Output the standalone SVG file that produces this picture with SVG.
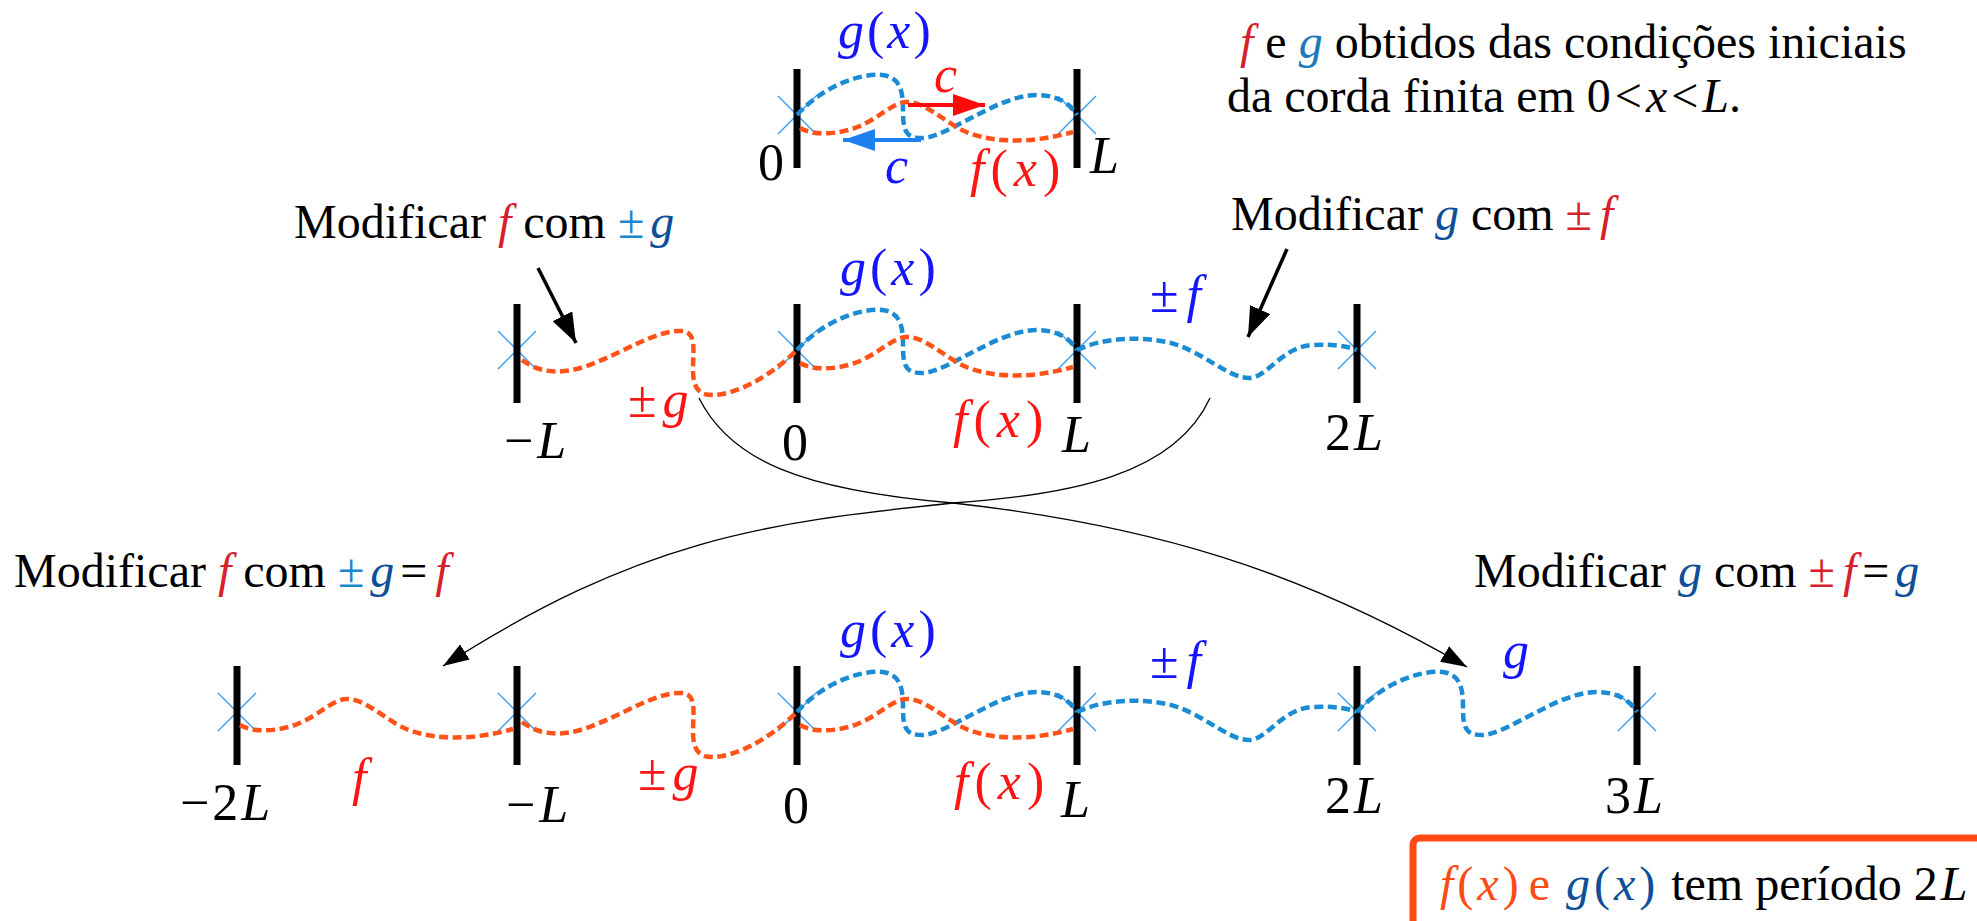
<svg xmlns="http://www.w3.org/2000/svg" width="1977" height="921" viewBox="0 0 1977 921">
<style>
text{font-family:"Liberation Serif","Times New Roman",serif;}
.t{font-size:48px;fill:#000}
.m{font-size:52px}
.i{font-style:italic}
.bar{fill:#000}
.x{stroke:#3d9df2;stroke-width:1.5}
.fd{fill:none;stroke:#ff5319;stroke-width:4.5;stroke-dasharray:9 4.5}
.gd{fill:none;stroke:#1b8bd3;stroke-width:4.5;stroke-dasharray:9 4.5}
.conn{fill:none;stroke:#000;stroke-width:1.3}
.thick{fill:none;stroke:#000;stroke-width:3.5}
.lb{fill:#1414ff}
.lr{fill:#ff1414}
.cr{fill:#d7202b}
.cb{fill:#1a86cf}
.cd{fill:#0d4f98}
</style>
<defs>
<path id="f0" d="M3,13 C15,20 35,20 55,14 C80,6 95,-13 110,-13 C128,-13 145,5 165,15 C190,27 230,30 276,17"/>
<path id="g0" d="M0,0 C25,-28 62,-42 85,-40 C104,-38 106,-22 106,-5 C106,15 108,23 125,23 C150,23 200,-20 240,-20 C262,-20 274,-10 280,0"/>
<path id="gm" d="M-275,10 C-255,25 -230,25 -200,12 C-170,0 -140,-20 -115,-19 C-100,-18 -104,0 -104,20 C-104,38 -98,45 -85,45 C-60,45 -25,25 0,0"/>
<path id="fp" d="M0,0 C25,-12 60,-14 90,-8 C125,0 150,28 172,28 C190,28 205,-3 235,-5 C255,-6 270,-4 280,0"/>
<g id="post">
<line class="x" x1="-19" y1="-19" x2="19" y2="19"/>
<line class="x" x1="19" y1="-19" x2="-19" y2="19"/>
<rect class="bar" x="-3.5" y="-46" width="7" height="99"/>
</g>
<marker id="ahBig" markerUnits="userSpaceOnUse" markerWidth="32" markerHeight="22" refX="30" refY="11" orient="auto">
<path d="M0,0 L30,11 L0,22 z" fill="#000"/>
</marker>
<marker id="ahThin" markerUnits="userSpaceOnUse" markerWidth="28" markerHeight="18" refX="26" refY="9" orient="auto">
<path d="M0,0 L26,9 L0,18 z" fill="#000"/>
</marker>
<marker id="ahRed" markerUnits="userSpaceOnUse" markerWidth="34" markerHeight="22" refX="32" refY="11" orient="auto">
<path d="M0,0 L32,11 L0,22 z" fill="#ff0a0a"/>
</marker>
<marker id="ahBlue" markerUnits="userSpaceOnUse" markerWidth="34" markerHeight="22" refX="32" refY="11" orient="auto">
<path d="M0,0 L32,11 L0,22 z" fill="#1e7ff0"/>
</marker>
</defs>

<!-- Top row: original string -->
<g id="row-top">
<use href="#post" x="797" y="115"/>
<use href="#post" x="1077" y="115"/>
<use href="#g0" class="gd" transform="translate(797,115)"/>
<use href="#f0" class="fd" transform="translate(797,115)"/>
<line x1="908" y1="105" x2="985" y2="105" stroke="#ff0a0a" stroke-width="4" marker-end="url(#ahRed)"/>
<line x1="921" y1="140" x2="843" y2="140" stroke="#1e7ff0" stroke-width="4" marker-end="url(#ahBlue)"/>
<text class="m lb" x="838" y="48" letter-spacing="3"><tspan class="i">g</tspan>(<tspan class="i">x</tspan>)</text>
<text class="m lr i" x="934" y="92">c</text>
<text class="m lb i" x="885" y="183">c</text>
<text class="m" x="758" y="180">0</text>
<text class="m i" x="1090" y="173">L</text>
<text class="m lr" x="970" y="186" letter-spacing="6"><tspan class="i">f</tspan>(<tspan class="i">x</tspan>)</text>
</g>

<g id="note-top">
<text class="t" x="1240" y="58"><tspan class="i cr">f</tspan> e <tspan class="i" fill="#1f78b8">g</tspan> obtidos das condições iniciais</text>
<text class="t" x="1227" y="112">da corda finita em 0<tspan dx="4">&lt;</tspan><tspan class="i" dx="4">x</tspan><tspan dx="4">&lt;</tspan><tspan class="i" dx="4">L</tspan>.</text>
</g>

<!-- Middle row -->
<g id="row-mid">
<use href="#post" x="517" y="350"/>
<use href="#post" x="797" y="350"/>
<use href="#post" x="1077" y="350"/>
<use href="#post" x="1357" y="350"/>
<use href="#gm" class="fd" transform="translate(797,350)"/>
<use href="#g0" class="gd" transform="translate(797,350)"/>
<use href="#f0" class="fd" transform="translate(797,350)"/>
<use href="#fp" class="gd" transform="translate(1077,350)"/>
<text class="m lb" x="840" y="285" letter-spacing="4"><tspan class="i">g</tspan>(<tspan class="i">x</tspan>)</text>
<text class="m lr" x="628" y="417">±<tspan class="i" dx="6">g</tspan></text>
<text class="m lb" x="1150" y="312">±<tspan class="i" dx="8">f</tspan></text>
<text class="m lr" x="953" y="437" letter-spacing="6"><tspan class="i">f</tspan>(<tspan class="i">x</tspan>)</text>
<text class="m" x="504" y="458">−<tspan class="i" dx="4">L</tspan></text>
<text class="m" x="782" y="460">0</text>
<text class="m i" x="1062" y="452">L</text>
<text class="m" x="1325" y="450">2<tspan class="i" dx="3">L</tspan></text>
</g>

<g id="label-mod-f">
<text class="t" x="294" y="238">Modificar <tspan class="i cr">f</tspan> com <tspan class="cb">±</tspan><tspan class="i cd" dx="6">g</tspan></text>
<line class="thick" x1="538" y1="268" x2="576" y2="343" marker-end="url(#ahBig)"/>
</g>
<g id="label-mod-g">
<text class="t" x="1231" y="230">Modificar <tspan class="i cd">g</tspan> com <tspan class="cr">±</tspan><tspan class="i cr" dx="8">f</tspan></text>
<line class="thick" x1="1287" y1="249" x2="1248" y2="337" marker-end="url(#ahBig)"/>
</g>

<!-- Bottom row -->
<g id="row-bot">
<use href="#post" x="237" y="712"/>
<use href="#post" x="517" y="712"/>
<use href="#post" x="797" y="712"/>
<use href="#post" x="1077" y="712"/>
<use href="#post" x="1357" y="712"/>
<use href="#post" x="1637" y="712"/>
<use href="#f0" class="fd" transform="translate(237,712)"/>
<use href="#gm" class="fd" transform="translate(797,712)"/>
<use href="#g0" class="gd" transform="translate(797,712)"/>
<use href="#f0" class="fd" transform="translate(797,712)"/>
<use href="#fp" class="gd" transform="translate(1077,712)"/>
<use href="#g0" class="gd" transform="translate(1357,712)"/>
<text class="m lb" x="840" y="647" letter-spacing="4"><tspan class="i">g</tspan>(<tspan class="i">x</tspan>)</text>
<text class="m lr i" x="352" y="795">f</text>
<text class="m lr" x="638" y="790">±<tspan class="i" dx="6">g</tspan></text>
<text class="m lb" x="1150" y="678">±<tspan class="i" dx="8">f</tspan></text>
<text class="m lb i" x="1503" y="668">g</text>
<text class="m lr" x="954" y="799" letter-spacing="6"><tspan class="i">f</tspan>(<tspan class="i">x</tspan>)</text>
<text class="m" x="180" y="820">−<tspan dx="3">2</tspan><tspan class="i" dx="3">L</tspan></text>
<text class="m" x="506" y="822">−<tspan class="i" dx="4">L</tspan></text>
<text class="m" x="783" y="823">0</text>
<text class="m i" x="1061" y="817">L</text>
<text class="m" x="1325" y="813">2<tspan class="i" dx="3">L</tspan></text>
<text class="m" x="1605" y="813">3<tspan class="i" dx="3">L</tspan></text>
</g>

<g id="label-mod-f2">
<text class="t" x="14" y="587">Modificar <tspan class="i cr">f</tspan> com <tspan class="cb">±</tspan><tspan class="i cd" dx="6">g</tspan><tspan dx="6">=</tspan><tspan class="i cr" dx="8">f</tspan></text>
</g>
<g id="label-mod-g2">
<text class="t" x="1474" y="587">Modificar <tspan class="i cd">g</tspan> com <tspan class="cr">±</tspan><tspan class="i cr" dx="8">f</tspan><tspan dx="6">=</tspan><tspan class="i cd" dx="6">g</tspan></text>
</g>

<!-- Connectors -->
<g id="connectors">
<path class="conn" d="M699,398 C730,460 800,490 953,503 C1150,525 1300,570 1467,667" marker-end="url(#ahThin)"/>
<path class="conn" d="M1210,398 C1175,475 1070,495 953,503 C760,523 640,540 443,666" marker-end="url(#ahThin)"/>
</g>

<g id="period-box">
<rect x="1413" y="838" width="620" height="130" rx="7" fill="#fff" stroke="#ff4a12" stroke-width="7"/>
<text class="t" x="1440" y="900"><tspan fill="#ff4a12" letter-spacing="4"><tspan class="i">f</tspan>(<tspan class="i">x</tspan>)</tspan><tspan fill="#ff4a12" dx="6">e</tspan> <tspan class="cd" letter-spacing="4" dx="4"><tspan class="i">g</tspan>(<tspan class="i">x</tspan>)</tspan> tem período 2<tspan class="i" dx="3">L</tspan></text>
</g>
</svg>
